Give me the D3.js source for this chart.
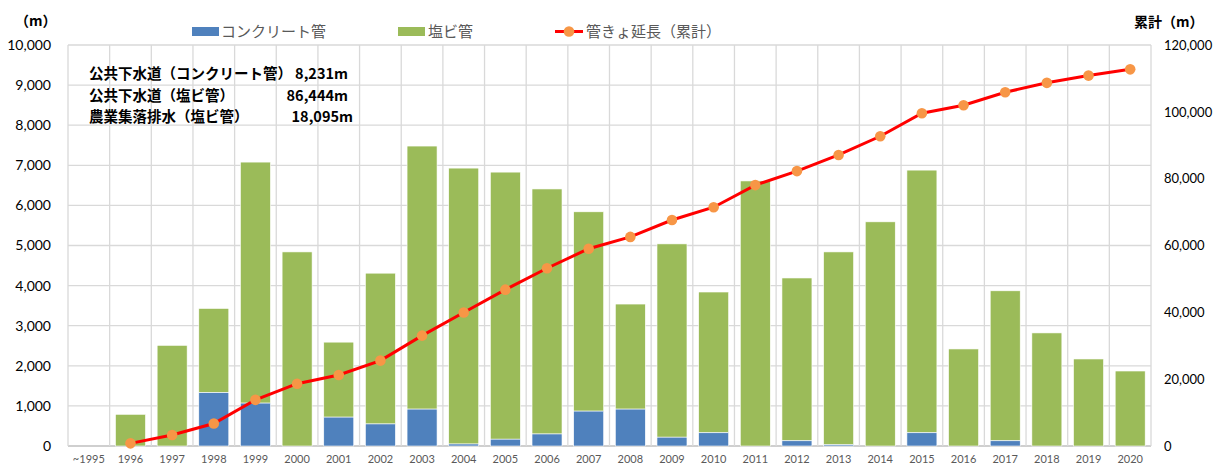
<!DOCTYPE html>
<html><head><meta charset="utf-8">
<script src="https://cdn.jsdelivr.net/npm/d3@7"></script>
<style>body{margin:0;background:#fff}svg{display:block}</style>
</head><body>
<svg id="c" width="1214" height="466"></svg>
<script>
const categories = ["~1995","1996","1997","1998","1999","2000","2001","2002","2003","2004","2005","2006","2007","2008","2009","2010","2011","2012","2013","2014","2015","2016","2017","2018","2019","2020"];
const concrete = [0,0,0,1330,1070,0,720,550,920,50,170,300,870,920,220,330,0,130,30,0,330,0,130,0,0,0];
const totals = [0,790,2510,3430,7080,4840,2590,4310,7480,6930,6830,6410,5840,3540,5040,3840,6610,4190,4840,5590,6880,2420,3870,2820,2170,1870];
const cumulative = [null,790,3300,6730,13810,18650,21240,25550,33030,39960,46790,53200,59040,62580,67620,71460,78070,82260,87100,92690,99570,101990,105860,108680,110850,112720];
const leftTicks = [0,1000,2000,3000,4000,5000,6000,7000,8000,9000,10000];
const rightTicks = [0,20000,40000,60000,80000,100000,120000];
const seriesNames = ["コンクリート管","塩ビ管","管きょ延長（累計）"];
const notes = [["公共下水道（コンクリート管）","8,231m"],["公共下水道（塩ビ管）","86,444m"],["農業集落排水（塩ビ管）","18,095m"]];

const svg = d3.select("#c");
const L=68,R=1151,T=45,B=446;
const xb = d3.scaleBand().domain(categories).range([L,R]);
const y = d3.scaleLinear().domain([0,10000]).range([B,T]);
const y2 = d3.scaleLinear().domain([0,120000]).range([B,T]);
const numFont = "Lato, 'Liberation Sans', sans-serif";
const jpFont = "'Noto Sans CJK JP', sans-serif";

// grid
const g = svg.append("g");
g.selectAll(".h").data(leftTicks).enter().append("line")
 .attr("x1",L).attr("x2",R).attr("y1",d=>y(d)).attr("y2",d=>y(d))
 .attr("stroke",d=>d===0?"#bfbfbf":"#d9d9d9").attr("stroke-width",1.3);
g.selectAll(".v").data(categories.concat(["end"])).enter().append("line")
 .attr("x1",(d,i)=>L+i*xb.bandwidth()).attr("x2",(d,i)=>L+i*xb.bandwidth())
 .attr("y1",T).attr("y2",B).attr("stroke","#d9d9d9").attr("stroke-width",1.3);

// bars
const bw = xb.bandwidth()*0.72;
const bx = d => xb(d)+ (xb.bandwidth()-bw)/2;
svg.append("g").selectAll("rect").data(categories).enter().append("rect")
 .attr("x",d=>bx(d)).attr("width",bw)
 .attr("y",(d,i)=>y(totals[i])).attr("height",(d,i)=>y(concrete[i])-y(totals[i]))
 .attr("fill","#9BBB59").attr("stroke","#fff").attr("stroke-width",0.6);
svg.append("g").selectAll("rect").data(categories).enter().append("rect")
 .attr("x",d=>bx(d)).attr("width",bw)
 .attr("y",(d,i)=>y(concrete[i])).attr("height",(d,i)=>B-y(concrete[i]))
 .attr("fill","#4F81BD").attr("stroke","#fff").attr("stroke-width",0.6);

// line
const pts = categories.map((c,i)=>({c,v:cumulative[i]})).filter(d=>d.v!==null);
const cx = d=>xb(d)+xb.bandwidth()/2;
svg.append("path").datum(pts)
 .attr("d",d3.line().x(d=>cx(d.c)).y(d=>y2(d.v)))
 .attr("fill","none").attr("stroke","#FF0000").attr("stroke-width",3);
svg.append("g").selectAll("circle").data(pts).enter().append("circle")
 .attr("cx",d=>cx(d.c)).attr("cy",d=>y2(d.v)).attr("r",5.3).attr("fill","#F79646");

// axes
const ax = svg.append("g").attr("transform",`translate(0,${B})`)
 .call(d3.axisBottom(xb).tickSize(0).tickPadding(9));
ax.select(".domain").remove();
ax.selectAll("text").attr("font-family",numFont).attr("font-size",11).attr("fill","#595959");

const ay = svg.append("g").attr("transform",`translate(${L-14},0)`)
 .call(d3.axisLeft(y).tickValues(leftTicks).tickSize(0).tickFormat(d3.format(",")));
ay.select(".domain").remove();
ay.selectAll("text").attr("font-family",numFont).attr("font-size",14).attr("fill","#000");

const ay2 = svg.append("g").attr("transform",`translate(${R+10},0)`)
 .call(d3.axisRight(y2).tickValues(rightTicks).tickSize(0).tickFormat(d3.format(",")));
ay2.select(".domain").remove();
ay2.selectAll("text").attr("font-family",numFont).attr("font-size",13).attr("fill","#000");

svg.append("text").attr("x",15).attr("y",26).text("（m）")
 .attr("font-family",jpFont).attr("font-weight","bold").attr("font-size",14).attr("fill","#000");
svg.append("text").attr("x",1134).attr("y",27).text("累計（m）")
 .attr("font-family",jpFont).attr("font-weight","bold").attr("font-size",14).attr("fill","#000");

// legend
const lg = svg.append("g").attr("font-family",jpFont).attr("font-size",15).attr("fill","#595959");
lg.append("rect").attr("x",192).attr("y",27).attr("width",27).attr("height",9).attr("fill","#4F81BD");
lg.append("text").attr("x",221).attr("y",37).text(seriesNames[0]);
lg.append("rect").attr("x",398).attr("y",27).attr("width",27).attr("height",9).attr("fill","#9BBB59");
lg.append("text").attr("x",428).attr("y",37).text(seriesNames[1]);
lg.append("line").attr("x1",555).attr("x2",583).attr("y1",31.5).attr("y2",31.5).attr("stroke","#FF0000").attr("stroke-width",3);
lg.append("circle").attr("cx",569).attr("cy",31.5).attr("r",5.3).attr("fill","#F79646");
lg.append("text").attr("x",586).attr("y",37).text(seriesNames[2]);

// notes
const nt = svg.append("g").attr("font-family",jpFont).attr("font-weight","bold").attr("font-size",14.5).attr("fill","#000");
const noteEnds = [348,348,353];
notes.forEach((n,i)=>{
  nt.append("text").attr("x",89).attr("y",79+i*21.5).text(n[0]);
  nt.append("text").attr("x",noteEnds[i]).attr("y",79+i*21.5).attr("text-anchor","end").text(n[1]);
});
</script>
</body></html>
